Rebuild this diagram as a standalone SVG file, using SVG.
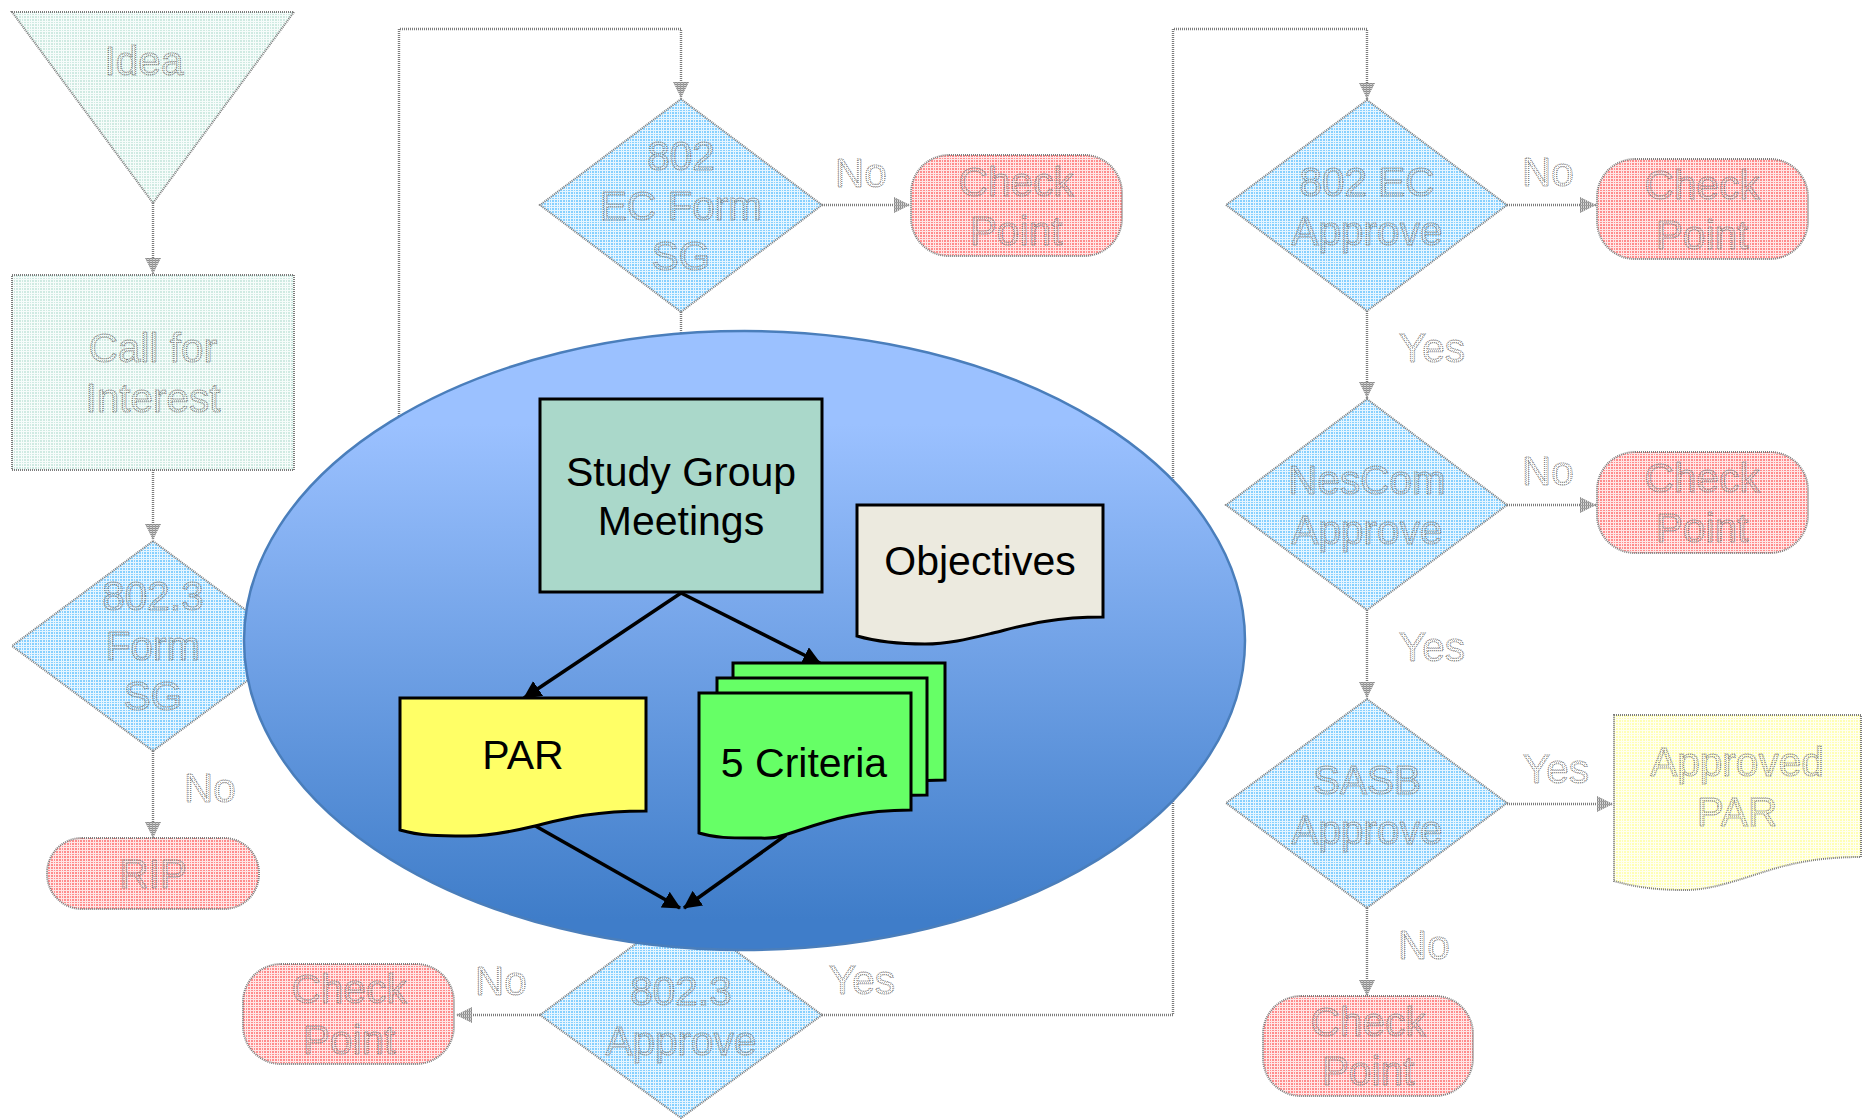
<svg xmlns="http://www.w3.org/2000/svg" width="1862" height="1119" viewBox="0 0 1862 1119">
<style>
text{font-family:"Liberation Sans",Arial,sans-serif;font-size:41px;text-anchor:middle}
.faded text{font-size:40.5px;fill:url(#mText);stroke:#6e6e6e;stroke-width:1;stroke-dasharray:1 1}
.blue{fill:url(#mBlue)}.red{fill:url(#mRed)}.green{fill:url(#mGreen)}.yellow{fill:url(#mYellow)}
.edge{stroke:#7c7c7c;stroke-width:2;stroke-dasharray:1 1}
.flow{fill:none;stroke:#7c7c7c;stroke-width:2.4;stroke-dasharray:1 1;marker-end:url(#fadedArrow)}
.flowplain{fill:none;stroke:#7c7c7c;stroke-width:2.4;stroke-dasharray:1 1}
.solid{stroke:#000;stroke-width:3}
.arrow{fill:none;stroke:#000;stroke-width:3.5;marker-end:url(#blackArrow)}
.ink{fill:#000}
</style>
<defs>
<pattern id="mBlue" width="8" height="8" patternUnits="userSpaceOnUse"><rect width="8" height="8" fill="#86d0ff"/><path d="M2.5 0V8M5.5 0V8M7.5 0V8M0 2.5H8M0 5.5H8M0 7.5H8" stroke="#e6f5ff" stroke-width="1"/></pattern>
<pattern id="mRed" width="8" height="8" patternUnits="userSpaceOnUse"><rect width="8" height="8" fill="#ff8c8c"/><path d="M2.5 0V8M5.5 0V8M7.5 0V8M0 2.5H8M0 5.5H8M0 7.5H8" stroke="#ffe6e6" stroke-width="1"/></pattern>
<pattern id="mGreen" width="8" height="8" patternUnits="userSpaceOnUse"><rect width="8" height="8" fill="#cfeae2"/><path d="M2.5 0V8M5.5 0V8M7.5 0V8M0 2.5H8M0 5.5H8M0 7.5H8" stroke="#f6fcfa" stroke-width="1"/></pattern>
<pattern id="mYellow" width="8" height="8" patternUnits="userSpaceOnUse"><rect width="8" height="8" fill="#ffffb4"/><path d="M2.5 0V8M5.5 0V8M7.5 0V8M0 2.5H8M0 5.5H8M0 7.5H8" stroke="#fffff0" stroke-width="1"/></pattern>
<pattern id="mText" width="2" height="2" patternUnits="userSpaceOnUse"><rect width="1" height="1" fill="#a0a0a0" fill-opacity=".7"/></pattern>
<pattern id="mHead" width="2" height="3" patternUnits="userSpaceOnUse"><rect width="2" height="3" fill="#d8d8d8"/><rect width="1" height="3" fill="#8a8a8a"/><rect y="2" width="2" height="1" fill="#a0a0a0"/></pattern>
<linearGradient id="ellipseFill" x1="0" y1="0" x2="0" y2="1"><stop offset="0.15" stop-color="#9bc1ff"/><stop offset="0.95" stop-color="#3f7dc9"/></linearGradient>
<marker id="fadedArrow" markerUnits="userSpaceOnUse" markerWidth="16" markerHeight="16" viewBox="0 0 16 16" refX="16" refY="8" orient="auto"><path d="M0 0L16 8L0 16Z" fill="url(#mHead)"/></marker>
<marker id="blackArrow" markerUnits="userSpaceOnUse" markerWidth="18" markerHeight="18" viewBox="0 0 18 18" refX="17" refY="9" orient="auto"><path d="M0 0L18 9L0 18Z" fill="#000"/></marker>
</defs>
<rect width="1862" height="1119" fill="#fff"/>
<g id="connectors" class="faded">
<path class="flow" d="M153 203V274"/>
<path class="flow" d="M153 470V540"/>
<path class="flow" d="M153 751V838"/>
<path class="flowplain" d="M681 312V420"/>
<path class="flow" d="M399 430V29H681V98"/>
<path class="flow" d="M822 205H910"/>
<path class="flow" d="M540 1015H456"/>
<path class="flow" d="M822 1015H1173V29H1367V99"/>
<path class="flow" d="M1507 205H1596"/>
<path class="flow" d="M1367 311V398"/>
<path class="flow" d="M1507 505H1596"/>
<path class="flow" d="M1367 610V698"/>
<path class="flow" d="M1507 804H1613"/>
<path class="flow" d="M1367 908V996"/>
</g>
<g id="node-idea" class="faded"><path class="green edge" d="M12 12H294L153 203Z"/><text x="144" y="75">Idea</text></g>
<g id="node-call" class="faded"><rect class="green edge" x="12" y="275" width="282" height="195"/><text x="153" y="362">Call for</text><text x="153" y="412">Interest</text></g>
<g id="node-form" class="faded"><path class="blue edge" d="M153 541L294 646L153 751L12 646Z"/><text x="153" y="610">802.3</text><text x="153" y="660">Form</text><text x="153" y="710">SG</text></g>
<g id="node-rip" class="faded"><rect class="red edge" x="47" y="838" width="212" height="71" rx="35"/><text x="153" y="888">RIP</text></g>
<g id="node-ecform" class="faded"><path class="blue edge" d="M681 99L822 205L681 312L540 205Z"/><text x="681" y="170">802</text><text x="681" y="220">EC Form</text><text x="681" y="270">SG</text></g>
<g id="node-check1" class="faded"><rect class="red edge" x="911" y="155" width="211" height="101" rx="38"/><text x="1016" y="196">Check</text><text x="1016" y="245">Point</text></g>
<g id="node-approve3" class="faded"><path class="blue edge" d="M681 910L822 1015L681 1118L540 1015Z"/><text x="681" y="1005">802.3</text><text x="681" y="1055">Approve</text></g>
<g id="node-check0" class="faded"><rect class="red edge" x="243" y="964" width="211" height="100" rx="38"/><text x="349" y="1003">Check</text><text x="349" y="1054">Point</text></g>
<g id="node-ecapprove" class="faded"><path class="blue edge" d="M1367 100L1507 205L1367 311L1226 205Z"/><text x="1367" y="196">802 EC</text><text x="1367" y="245">Approve</text></g>
<g id="node-check2" class="faded"><rect class="red edge" x="1597" y="159" width="211" height="100" rx="38"/><text x="1702" y="199">Check</text><text x="1702" y="249">Point</text></g>
<g id="node-nescom" class="faded"><path class="blue edge" d="M1367 399L1507 505L1367 610L1226 505Z"/><text x="1367" y="494">NesCom</text><text x="1367" y="544">Approve</text></g>
<g id="node-check3" class="faded"><rect class="red edge" x="1597" y="452" width="211" height="101" rx="38"/><text x="1702" y="492">Check</text><text x="1702" y="542">Point</text></g>
<g id="node-sasb" class="faded"><path class="blue edge" d="M1367 699L1507 803L1367 908L1226 803Z"/><text x="1367" y="794">SASB</text><text x="1367" y="844">Approve</text></g>
<g id="node-approved" class="faded"><path class="yellow edge" d="M1614 715H1861V857C1806 857 1776 868 1751 876S1706 890 1685 890C1660 890 1638 888 1614 881Z"/><text x="1737" y="776">Approved</text><text x="1737" y="826">PAR</text></g>
<g id="node-check4" class="faded"><rect class="red edge" x="1263" y="996" width="210" height="100" rx="38"/><text x="1368" y="1036">Check</text><text x="1368" y="1085">Point</text></g>
<g id="labels" class="faded">
<text x="210" y="802">No</text><text x="501" y="995">No</text><text x="862" y="994">Yes</text>
<text x="861" y="187">No</text><text x="1548" y="186">No</text><text x="1432" y="362">Yes</text>
<text x="1548" y="485">No</text><text x="1432" y="661">Yes</text><text x="1556" y="783">Yes</text><text x="1424" y="959">No</text>
</g>
<g id="node-study-ellipse"><ellipse cx="744.5" cy="640.5" rx="500.5" ry="309.5" fill="url(#ellipseFill)" stroke="#4a7ebb" stroke-width="2.5"/></g>
<g id="inner-connectors">
<path class="arrow" d="M681 593L524 698"/>
<path class="arrow" d="M681 593L820 663"/>
<path class="arrow" d="M532 824L680 908"/>
<path class="arrow" d="M786 835L684 908"/>
</g>
<g id="node-study"><rect class="solid" x="540" y="399" width="282" height="193" fill="#aad8ca"/><text class="ink" x="681" y="486">Study Group</text><text class="ink" x="681" y="535">Meetings</text></g>
<g id="node-objectives"><path class="solid" d="M857 505H1103V617C1048 617 1018 627 993 633S948 644 925 644C898 644 878 642 857 636Z" fill="#eceadf"/><text class="ink" x="980" y="575">Objectives</text></g>
<g id="node-par"><path class="solid" d="M400 698H646V811C590 811 560 820 535 826S490 836 467 836C440 836 420 836 400 830Z" fill="#ffff66"/><text class="ink" x="523" y="769">PAR</text></g>
<g id="node-criteria">
<path class="solid" d="M733 663H945V780C890 780 860 790 835 800S790 810 770 810H733Z" fill="#66ff66"/>
<path class="solid" d="M717 678H927V795C870 795 840 805 820 815S770 825 750 825H717Z" fill="#66ff66"/>
<path class="solid" d="M699 693H911V810C860 810 830 820 800 830S775 838 752 838C730 838 715 838 699 833Z" fill="#66ff66"/>
<text class="ink" x="804" y="777">5 Criteria</text></g>
</svg>
